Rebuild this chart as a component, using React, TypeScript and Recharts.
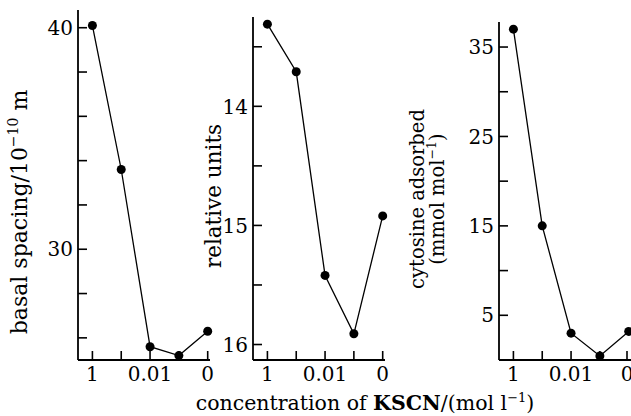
import React from 'react';
import { LineChart, Line, XAxis, YAxis } from 'recharts';

// KSCN concentration steps (mol l-1), only three are labelled on the axis
const concentrations = ['1', '0.1', '0.01', '0.001', '0'];
const xTickLabels = ['1', '', '0.01', '', '0'];

const basalSpacing = [40.1, 33.6, 25.6, 25.2, 26.3];
const relativeUnits = [13.31, 13.71, 15.42, 15.91, 14.92];
const cytosineAdsorbed = [37.0, 15.0, 3.0, 0.45, 3.2];

const basalTicks = [26, 28, 30, 32, 34, 36, 38, 40];
const basalLabels = [30, 40];
const relTicks = [13.5, 14, 14.5, 15, 15.5, 16];
const relLabels = [14, 15, 16];
const cytTicks = [5, 10, 15, 20, 25, 30, 35];
const cytLabels = [5, 15, 25, 35];

const FONT = '"DejaVu Serif", "Liberation Serif", serif';
const W = 631;
const H = 416;
const PLOT_W = 132;

const toRows = (values: number[]) =>
  values.map((v, i) => ({ i, conc: concentrations[i], v }));

const makeYTick = (labels: number[]) => (props: any) => {
  const { x, y, payload } = props;
  return (
    <g>
      <line x1={x} x2={x + 9} y1={y} y2={y} stroke="#000" strokeWidth={1.6} />
      {labels.includes(payload.value) && (
        <text x={x - 5} y={y} dy="0.36em" textAnchor="end" fontSize={20} fontFamily={FONT} fill="#000">
          {payload.value}
        </text>
      )}
    </g>
  );
};

const XTick = (props: any) => {
  const { x, y, payload } = props;
  return (
    <g>
      <line x1={x} x2={x} y1={y} y2={y - 9} stroke="#000" strokeWidth={1.6} />
      <text x={x} y={y + 21} textAnchor="middle" fontSize={20} fontFamily={FONT} fill="#000">
        {xTickLabels[payload.value]}
      </text>
    </g>
  );
};

interface PanelProps {
  values: number[];
  left: number;
  top: number;
  domain: [number, number];
  ticks: number[];
  labels: number[];
  reversed?: boolean;
  yLabel: () => React.ReactNode;
  xLabel?: () => React.ReactNode;
}

const Panel = ({ values, left, top, domain, ticks, labels, reversed, yLabel, xLabel }: PanelProps) => (
  <div style={{ position: 'absolute', left: 0, top: 0 }}>
    <LineChart
      width={W}
      height={H}
      data={toRows(values)}
      margin={{ top, left: left - 1, right: W - left - PLOT_W, bottom: 55 }}
    >
      <XAxis
        type="number"
        dataKey="i"
        domain={[-0.5, 4.08]}
        ticks={[0, 1, 2, 3, 4]}
        height={1}
        tickSize={0}
        tickMargin={0}
        tickLine={false}
        axisLine={{ stroke: '#000', strokeWidth: 1.8 }}
        tick={XTick}
        label={xLabel}
      />
      <YAxis
        type="number"
        domain={domain}
        ticks={ticks}
        reversed={reversed}
        width={1}
        tickSize={0}
        tickMargin={0}
        tickLine={false}
        axisLine={{ stroke: '#000', strokeWidth: 1.8 }}
        tick={makeYTick(labels)}
        label={yLabel}
      />
      <Line
        dataKey="v"
        type="linear"
        stroke="#000"
        strokeWidth={1.3}
        dot={{ r: 4.5, fill: '#000', stroke: '#000', strokeWidth: 0 }}
        isAnimationActive={false}
      />
    </LineChart>
  </div>
);

const textStyle = { fontFamily: FONT, fill: '#000' };

export default function App() {
  return (
    <div style={{ position: 'absolute', left: 0, top: 0, width: W, height: H, background: '#fff', overflow: 'hidden' }}>
      <Panel
        values={basalSpacing}
        left={78}
        top={10}
        domain={[25, 40.8]}
        ticks={basalTicks}
        labels={basalLabels}
        yLabel={() => (
          <text transform="translate(27,212) rotate(-90)" textAnchor="middle" fontSize={22} {...textStyle}>
            basal spacing/10
            <tspan dy={-9} fontSize={14}>−10</tspan>
            <tspan dy={9}> m</tspan>
          </text>
        )}
      />
      <Panel
        values={relativeUnits}
        left={253}
        top={17}
        domain={[13.25, 16.13]}
        ticks={relTicks}
        labels={relLabels}
        reversed
        yLabel={() => (
          <text transform="translate(221,196) rotate(-90)" textAnchor="middle" fontSize={21.5} {...textStyle}>
            relative units
          </text>
        )}
        xLabel={() => (
          <text x={365} y={410} textAnchor="middle" fontSize={20.5} {...textStyle}>
            concentration of <tspan fontWeight="bold">KSCN</tspan>/(mol l
            <tspan dy={-8} fontSize={13}>−1</tspan>
            <tspan dy={8}>)</tspan>
          </text>
        )}
      />
      <Panel
        values={cytosineAdsorbed}
        left={499}
        top={22}
        domain={[0, 37.8]}
        ticks={cytTicks}
        labels={cytLabels}
        yLabel={() => (
          <text transform="translate(428,199) rotate(-90)" textAnchor="middle" fontSize={19.5} {...textStyle}>
            <tspan x={0} dy={-4}>cytosine adsorbed</tspan>
            <tspan x={0} dy={20}>(mmol mol</tspan>
            <tspan dy={-8} fontSize={12.5}>−1</tspan>
            <tspan dy={8}>)</tspan>
          </text>
        )}
      />
    </div>
  );
}
